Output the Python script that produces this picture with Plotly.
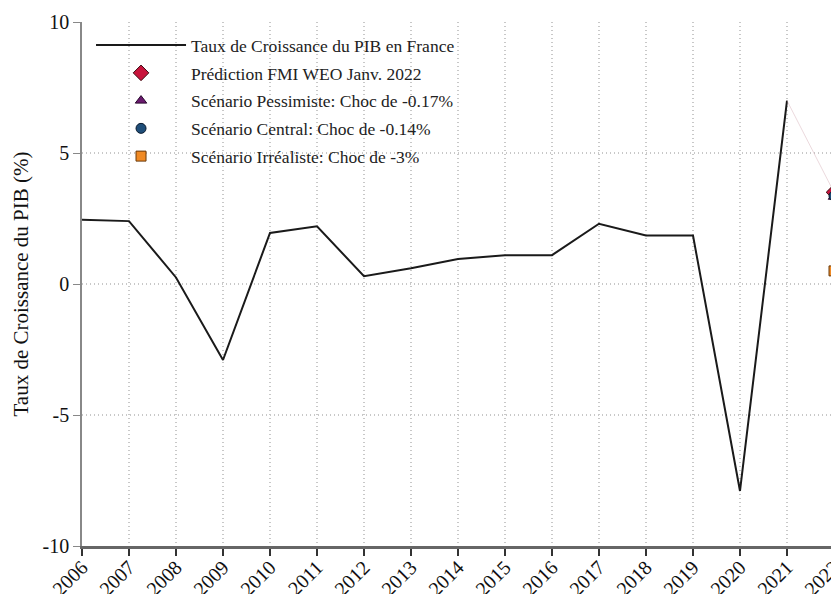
import plotly.graph_objects as go

years = list(range(2006, 2022))
growth = [2.45, 2.4, 0.25, -2.9, 1.95, 2.2, 0.3, 0.6, 0.95, 1.1, 1.1, 2.3, 1.85, 1.85, -7.9, 7.0]

year_pred = 2022
pred_fmi = 3.5
pred_pess = 3.33
pred_central = 3.36
pred_irreal = 0.5

x_ticks = list(range(2006, 2023))
y_ticks = [-10, -5, 0, 5, 10]

FONT = "Liberation Serif, Times New Roman, serif"

fig = go.Figure()
fig.add_trace(go.Scatter(
    x=years, y=growth, mode="lines", legendgroup="a",
    line=dict(color="#1a1a1a", width=2),
    name="Taux de Croissance du PIB en France"))
fig.add_trace(go.Scatter(
    x=[years[-1], year_pred], y=[growth[-1], pred_fmi], mode="lines",
    line=dict(color="rgba(210,170,180,0.45)", width=1),
    showlegend=False, cliponaxis=False))
fig.add_trace(go.Scatter(
    x=[year_pred], y=[pred_fmi], mode="markers", cliponaxis=False, legendgroup="b",
    marker=dict(symbol="diamond", size=12, color="#c8143c", line=dict(color="#3a0a10", width=1)),
    name="Prédiction FMI WEO Janv. 2022"))
fig.add_trace(go.Scatter(
    x=[year_pred], y=[pred_pess], mode="markers", cliponaxis=False, legendgroup="c",
    marker=dict(symbol="triangle-up", size=10, color="#6a1a6e", line=dict(color="#2a0a2e", width=1)),
    name="Scénario Pessimiste: Choc de -0.17%"))
fig.add_trace(go.Scatter(
    x=[year_pred], y=[pred_central], mode="markers", cliponaxis=False, legendgroup="d",
    marker=dict(symbol="circle", size=10, color="#1f4e79", line=dict(color="#0a1a2e", width=1)),
    name="Scénario Central: Choc de -0.14%"))
fig.add_trace(go.Scatter(
    x=[year_pred], y=[pred_irreal], mode="markers", cliponaxis=False, legendgroup="e",
    marker=dict(symbol="square", size=10, color="#f08a24", line=dict(color="#6a3a0a", width=1)),
    name="Scénario Irréaliste: Choc de -3%"))

fig.update_layout(
    width=836, height=594, autosize=False,
    margin=dict(l=82, r=2, t=22, b=48, autoexpand=False),
    plot_bgcolor="white", paper_bgcolor="white",
    font=dict(family=FONT, color="#111", size=16),
    legend=dict(x=0.012, y=0.99, xanchor="left", yanchor="top",
                bgcolor="rgba(0,0,0,0)", font=dict(size=17.5, family=FONT, color="#222"),
                itemwidth=90, tracegroupgap=2),
    xaxis=dict(range=[2006, 2022], tickmode="array", tickvals=x_ticks,
               ticktext=[str(v) for v in x_ticks], tickangle=-45, automargin=False,
               ticklabeloverflow="allow", ticklabelstandoff=-8,
               showgrid=True, gridcolor="#c8c8c8", griddash="1px,3px", gridwidth=1.5,
               showline=True, linecolor="#666", linewidth=2.5,
               ticks="outside", ticklen=7, tickcolor="#333", tickwidth=2,
               tickfont=dict(size=20, family=FONT), zeroline=False),
    yaxis=dict(range=[-10, 10], tickmode="array", tickvals=y_ticks,
               ticktext=[str(v) for v in y_ticks], automargin=False,
               showgrid=True, gridcolor="#c8c8c8", griddash="1px,3px", gridwidth=1.5,
               showline=True, linecolor="#888", linewidth=1.5,
               ticks="outside", ticklen=7, tickcolor="#888",
               tickfont=dict(size=20, family=FONT), zeroline=False,
               title=dict(text="Taux de Croissance du PIB (%)", font=dict(size=21, family=FONT), standoff=8)),
)

fig.write_html("out.html", config={"displayModeBar": False},
               post_script="document.body.style.margin='0';document.body.style.overflow='hidden';document.documentElement.style.overflow='hidden';")
